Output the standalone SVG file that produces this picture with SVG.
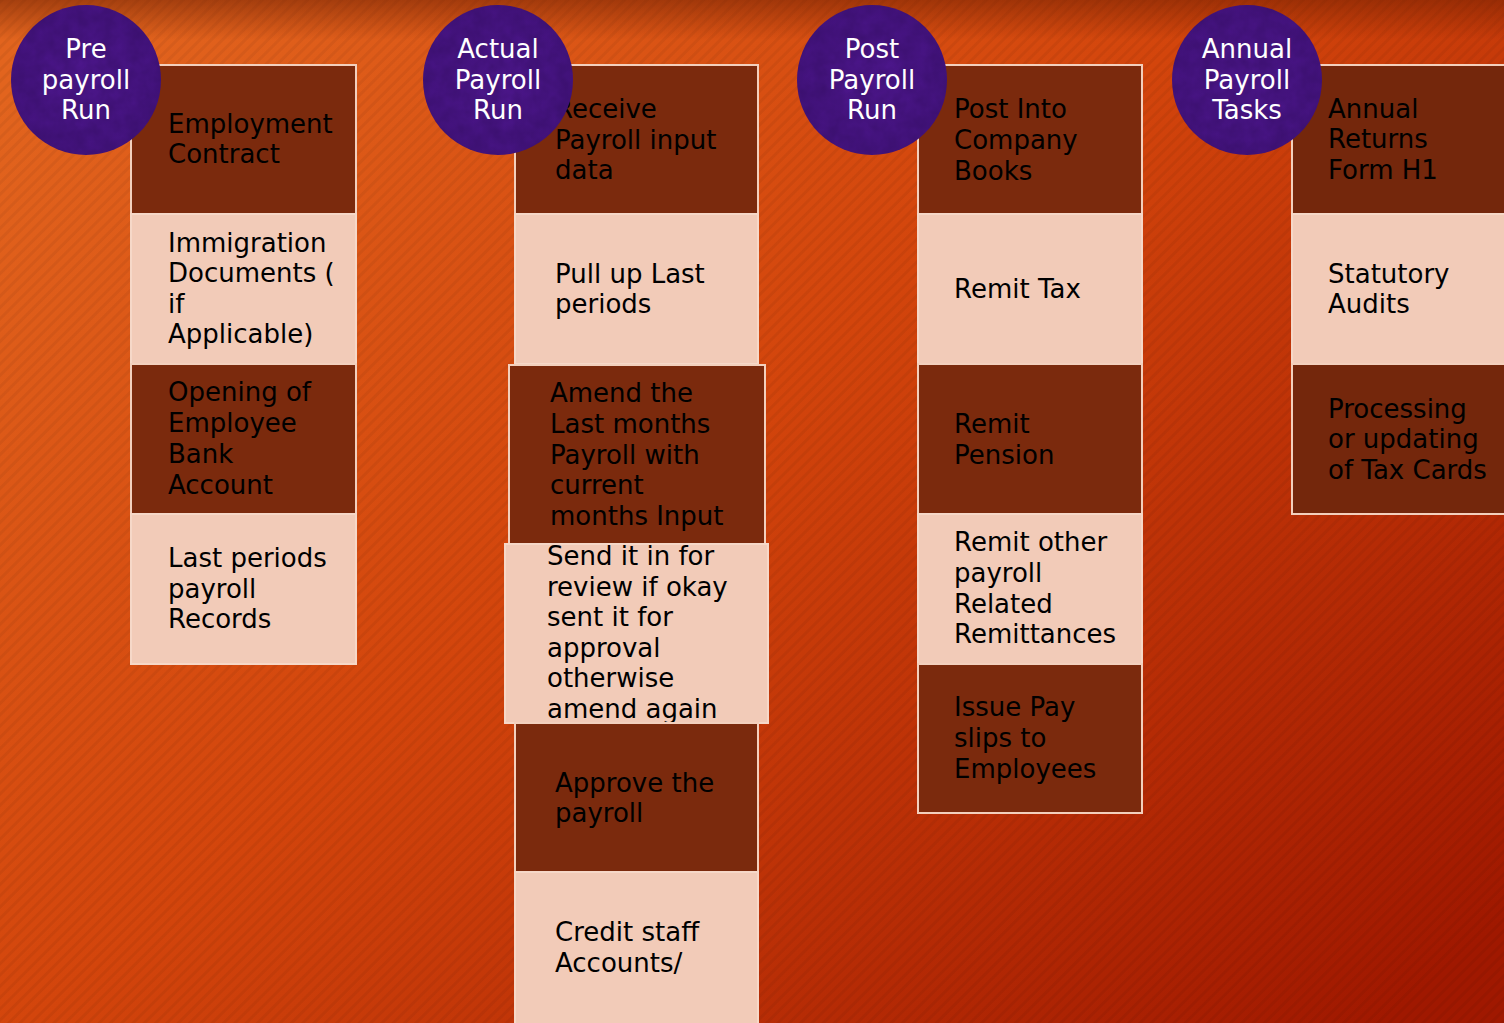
<svg xmlns="http://www.w3.org/2000/svg" width="1504" height="1023" viewBox="0 0 1504 1023">
  <defs>
    <linearGradient id="bg" x1="0" y1="0.1" x2="1" y2="0.9">
      <stop offset="0" stop-color="#e2641e"/>
      <stop offset="0.45" stop-color="#d3450c"/>
      <stop offset="1" stop-color="#a01800"/>
    </linearGradient>
    <linearGradient id="topShade" x1="0" y1="0" x2="0" y2="1">
      <stop offset="0" stop-color="#6a1c00" stop-opacity="0.5"/>
      <stop offset="1" stop-color="#6a1c00" stop-opacity="0"/>
    </linearGradient>
    <pattern id="hatch" width="8" height="8" patternUnits="userSpaceOnUse" patternTransform="rotate(45)">
      <rect width="3" height="8" fill="#000" fill-opacity="0.05"/>
    </pattern>
    <!-- mottled fabric texture for the stage discs -->
    <filter id="mottle" x="0" y="0" width="1" height="1" color-interpolation-filters="sRGB">
      <feTurbulence type="fractalNoise" baseFrequency="0.07" numOctaves="3" seed="4" result="n"/>
      <feColorMatrix in="n" type="matrix" values="0 0 0 0 0.2  0 0 0 0 0.05  0 0 0 0 0.38  0 0 0 0.7 -0.1" result="c"/>
      <feComposite in="c" in2="SourceGraphic" operator="atop"/>
    </filter>
    <radialGradient id="purple" cx="0.5" cy="0.5" r="0.5">
      <stop offset="0" stop-color="#4e178e"/>
      <stop offset="1" stop-color="#44137f"/>
    </radialGradient>
  </defs>
  <style>
    .dark { fill: #7b2a0d; stroke: #f3d0bd; stroke-width: 2; }
    .dark4 { fill: #74270c; stroke: #f3d0bd; stroke-width: 2; }
    .light { fill: #f2cbb8; stroke: #f6d8c8; stroke-width: 2; }
    .t { font-family: "DejaVu Sans", "Liberation Sans", sans-serif; font-size: 26px; fill: #000; }
    .c { font-family: "DejaVu Sans", "Liberation Sans", sans-serif; font-size: 26px; fill: #ffffff; text-anchor: middle; }
    .ball { fill: url(#purple); }
  </style>

  <!-- backdrop -->
  <rect width="1504" height="1023" fill="url(#bg)"/>
  <rect width="1504" height="1023" fill="url(#hatch)"/>
  <rect width="1504" height="40" fill="url(#topShade)"/>

  <g id="connectors"/>

  <!-- column 1: pre payroll -->
  <g id="employment-contract">
    <rect class="dark" x="131" y="65" width="225" height="149"/>
    <text class="t"><tspan x="168" y="133">Employment</tspan><tspan x="168" y="163">Contract</tspan></text>
  </g>
  <g id="immigration-documents">
    <rect class="light" x="131" y="214" width="225" height="150"/>
    <text class="t"><tspan x="168" y="252">Immigration</tspan><tspan x="168" y="282">Documents (</tspan><tspan x="168" y="313">if</tspan><tspan x="168" y="343">Applicable)</tspan></text>
  </g>
  <g id="bank-account">
    <rect class="dark" x="131" y="364" width="225" height="150"/>
    <text class="t"><tspan x="168" y="401">Opening of</tspan><tspan x="168" y="432">Employee</tspan><tspan x="168" y="463">Bank</tspan><tspan x="168" y="494">Account</tspan></text>
  </g>
  <g id="last-records">
    <rect class="light" x="131" y="514" width="225" height="150"/>
    <text class="t"><tspan x="168" y="567">Last periods</tspan><tspan x="168" y="598">payroll</tspan><tspan x="168" y="628">Records</tspan></text>
  </g>

  <!-- column 2: actual payroll run -->
  <g id="receive-input">
    <rect class="dark" x="515" y="65" width="243" height="149"/>
    <text class="t"><tspan x="555" y="118">Receive</tspan><tspan x="555" y="149">Payroll input</tspan><tspan x="555" y="179">data</tspan></text>
  </g>
  <g id="pull-up">
    <rect class="light" x="515" y="214" width="243" height="150"/>
    <text class="t"><tspan x="555" y="283">Pull up Last</tspan><tspan x="555" y="313">periods</tspan></text>
  </g>
  <g id="amend-payroll">
    <rect class="dark" x="509" y="365" width="256" height="180"/>
    <text class="t"><tspan x="550" y="402">Amend the</tspan><tspan x="550" y="433">Last months</tspan><tspan x="550" y="464">Payroll with</tspan><tspan x="550" y="494">current</tspan><tspan x="550" y="525">months Input</tspan></text>
  </g>
  <g id="send-review">
    <rect class="light" x="505" y="544" width="263" height="179"/>
    <text class="t"><tspan x="547" y="565">Send it in for</tspan><tspan x="547" y="596">review if okay</tspan><tspan x="547" y="626">sent it for</tspan><tspan x="547" y="657">approval</tspan><tspan x="547" y="687">otherwise</tspan><tspan x="547" y="718">amend again</tspan></text>
  </g>
  <g id="approve-payroll">
    <rect class="dark" x="515" y="723" width="243" height="149"/>
    <text class="t"><tspan x="555" y="792">Approve the</tspan><tspan x="555" y="822">payroll</tspan></text>
  </g>
  <g id="credit-accounts">
    <rect class="light" x="515" y="872" width="243" height="160"/>
    <text class="t"><tspan x="555" y="941">Credit staff</tspan><tspan x="555" y="972">Accounts/</tspan></text>
  </g>

  <!-- column 3: post payroll run -->
  <g id="company-books">
    <rect class="dark" x="918" y="65" width="224" height="149"/>
    <text class="t"><tspan x="954" y="118">Post Into</tspan><tspan x="954" y="149">Company</tspan><tspan x="954" y="180">Books</tspan></text>
  </g>
  <g id="remit-tax">
    <rect class="light" x="918" y="214" width="224" height="150"/>
    <text class="t"><tspan x="954" y="298">Remit Tax</tspan></text>
  </g>
  <g id="remit-pension">
    <rect class="dark" x="918" y="364" width="224" height="150"/>
    <text class="t"><tspan x="954" y="433">Remit</tspan><tspan x="954" y="464">Pension</tspan></text>
  </g>
  <g id="remit-other">
    <rect class="light" x="918" y="514" width="224" height="150"/>
    <text class="t"><tspan x="954" y="551">Remit other</tspan><tspan x="954" y="582">payroll</tspan><tspan x="954" y="613">Related</tspan><tspan x="954" y="643">Remittances</tspan></text>
  </g>
  <g id="pay-slips">
    <rect class="dark" x="918" y="664" width="224" height="149"/>
    <text class="t"><tspan x="954" y="716">Issue Pay</tspan><tspan x="954" y="747">slips to</tspan><tspan x="954" y="778">Employees</tspan></text>
  </g>

  <!-- column 4: annual payroll tasks -->
  <g id="annual-returns">
    <rect class="dark4" x="1292" y="65" width="222" height="149"/>
    <text class="t"><tspan x="1328" y="118">Annual</tspan><tspan x="1328" y="148">Returns</tspan><tspan x="1328" y="179">Form H1</tspan></text>
  </g>
  <g id="statutory-audits">
    <rect class="light" x="1292" y="214" width="222" height="150"/>
    <text class="t"><tspan x="1328" y="283">Statutory</tspan><tspan x="1328" y="313">Audits</tspan></text>
  </g>
  <g id="tax-cards">
    <rect class="dark4" x="1292" y="364" width="222" height="150"/>
    <text class="t"><tspan x="1328" y="418">Processing</tspan><tspan x="1328" y="448">or updating</tspan><tspan x="1328" y="479">of Tax Cards</tspan></text>
  </g>

  <!-- stage headers -->
  <g id="stage-pre">
    <circle class="ball" cx="86" cy="80" r="75" filter="url(#mottle)"/>
    <text class="c"><tspan x="86" y="58">Pre</tspan><tspan x="86" y="89">payroll</tspan><tspan x="86" y="119">Run</tspan></text>
  </g>
  <g id="stage-actual">
    <circle class="ball" cx="498" cy="80" r="75" filter="url(#mottle)"/>
    <text class="c"><tspan x="498" y="58">Actual</tspan><tspan x="498" y="89">Payroll</tspan><tspan x="498" y="119">Run</tspan></text>
  </g>
  <g id="stage-post">
    <circle class="ball" cx="872" cy="80" r="75" filter="url(#mottle)"/>
    <text class="c"><tspan x="872" y="58">Post</tspan><tspan x="872" y="89">Payroll</tspan><tspan x="872" y="119">Run</tspan></text>
  </g>
  <g id="stage-annual">
    <circle class="ball" cx="1247" cy="80" r="75" filter="url(#mottle)"/>
    <text class="c"><tspan x="1247" y="58">Annual</tspan><tspan x="1247" y="89">Payroll</tspan><tspan x="1247" y="119">Tasks</tspan></text>
  </g>
</svg>
